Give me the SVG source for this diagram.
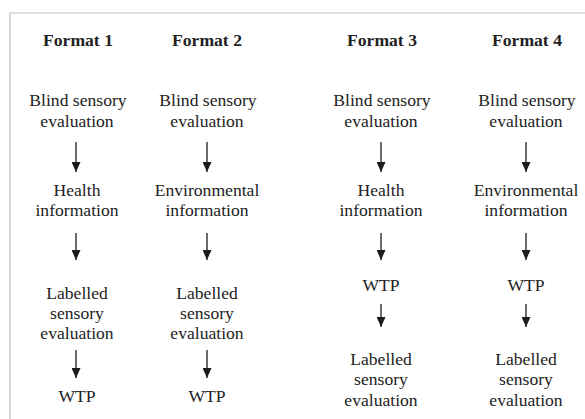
<svg xmlns="http://www.w3.org/2000/svg" width="585" height="419" viewBox="0 0 585 419" font-family="'Liberation Serif', 'DejaVu Serif', serif">
<style>
text{font-family:'Liberation Serif','DejaVu Serif',serif;font-size:17.6px;fill:#222;text-anchor:middle}
.h{font-weight:bold}
.c line{stroke:#1c1c1c;stroke-width:1.3}
.frame{stroke:#bdbdbd;stroke-width:1.2;fill:none}
</style>
<defs>
<marker id="ah" viewBox="0 0 10 9" markerWidth="10" markerHeight="9" refX="10" refY="4.5" orient="auto" markerUnits="userSpaceOnUse">
<path d="M0,0 L10,4.5 L0,9 z" fill="#1c1c1c"/>
</marker>
</defs>
<rect width="585" height="419" fill="#fff"/>
<path class="frame" d="M10,419 V13 H585"/>
<g id="headers">
<text class="h" x="78" y="45.5">Format 1</text>
<text class="h" x="207" y="45.5">Format 2</text>
<text class="h" x="382" y="45.5">Format 3</text>
<text class="h" x="527" y="45.5">Format 4</text>
</g>
<g id="f1-blind"><text x="78" y="106">Blind sensory</text><text x="77" y="126.5">evaluation</text></g>
<g id="f1-health"><text x="77" y="195.5">Health</text><text x="77" y="216">information</text></g>
<g id="f1-labelled"><text x="77" y="298.5">Labelled</text><text x="77" y="318.5">sensory</text><text x="77" y="338.5">evaluation</text></g>
<g id="f1-wtp"><text x="77" y="401.5">WTP</text></g>
<g id="f2-blind"><text x="208" y="106">Blind sensory</text><text x="207" y="126.5">evaluation</text></g>
<g id="f2-env"><text x="207" y="195.5">Environmental</text><text x="207" y="216">information</text></g>
<g id="f2-labelled"><text x="207" y="298.5">Labelled</text><text x="207" y="318.5">sensory</text><text x="207" y="338.5">evaluation</text></g>
<g id="f2-wtp"><text x="207" y="401.5">WTP</text></g>
<g id="f3-blind"><text x="382" y="106">Blind sensory</text><text x="381" y="126.5">evaluation</text></g>
<g id="f3-health"><text x="381" y="195.5">Health</text><text x="381" y="216">information</text></g>
<g id="f3-wtp"><text x="381" y="291">WTP</text></g>
<g id="f3-labelled"><text x="381" y="364.5">Labelled</text><text x="381" y="385">sensory</text><text x="381" y="405.5">evaluation</text></g>
<g id="f4-blind"><text x="527" y="106">Blind sensory</text><text x="526" y="126.5">evaluation</text></g>
<g id="f4-env"><text x="526" y="195.5">Environmental</text><text x="526" y="216">information</text></g>
<g id="f4-wtp"><text x="526" y="291">WTP</text></g>
<g id="f4-labelled"><text x="526" y="364.5">Labelled</text><text x="526" y="385">sensory</text><text x="526" y="405.5">evaluation</text></g>
<g id="connectors" class="c">
<line x1="76" y1="142" x2="76" y2="172" marker-end="url(#ah)"/>
<line x1="76" y1="233" x2="76" y2="260" marker-end="url(#ah)"/>
<line x1="76" y1="350" x2="76" y2="378" marker-end="url(#ah)"/>
<line x1="207" y1="142" x2="207" y2="172" marker-end="url(#ah)"/>
<line x1="207" y1="233" x2="207" y2="260" marker-end="url(#ah)"/>
<line x1="207" y1="350" x2="207" y2="378" marker-end="url(#ah)"/>
<line x1="381" y1="142" x2="381" y2="172" marker-end="url(#ah)"/>
<line x1="381" y1="233" x2="381" y2="260" marker-end="url(#ah)"/>
<line x1="381" y1="304" x2="381" y2="327" marker-end="url(#ah)"/>
<line x1="526" y1="142" x2="526" y2="172" marker-end="url(#ah)"/>
<line x1="526" y1="233" x2="526" y2="260" marker-end="url(#ah)"/>
<line x1="526" y1="304" x2="526" y2="327" marker-end="url(#ah)"/>
</g>
</svg>
